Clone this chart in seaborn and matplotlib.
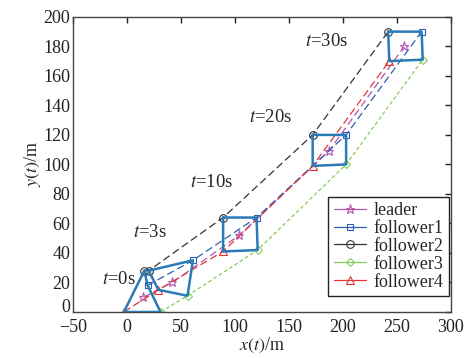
import matplotlib
matplotlib.use('Agg')
import matplotlib.pyplot as plt
import seaborn as sns

# positions at t = 0, 3, 10, 20, 30 s
times = [0, 3, 10, 20, 30]
leader_x = [15, 42, 104, 187, 257]
leader_y = [10, 20, 52, 109, 180]
f1_x = [19, 61, 120, 203, 273]
f1_y = [18, 35, 64, 120, 190]
f2_x = [16, 20, 89, 172, 242]
f2_y = [28, 28, 64, 120, 190]
f3_x = [31, 56, 121, 203, 274]
f3_y = [0, 11, 42, 100, 171]
f4_x = [-3, 29, 89, 172, 243]
f4_y = [0, 15, 41, 99, 170]

names = ['leader', 'follower1', 'follower2', 'follower3', 'follower4']
time_labels = ['0s', '3s', '10s', '20s', '30s']
label_x = [-8, 21, 78, 133, 185]
label_y = [22, 54, 88, 132, 183]

sns.set_theme(style='white')
plt.rcParams['font.family'] = ['Liberation Serif', 'DejaVu Serif']
plt.rcParams['mathtext.fontset'] = 'stix'

fig, ax = plt.subplots(figsize=(4.72, 3.59), dpi=100)
fig.subplots_adjust(left=0.155, right=0.955, top=0.953, bottom=0.131)

agents = [
    (leader_x, leader_y, '#b256b2', '*', 6.5, (0, (6, 3))),
    (f1_x, f1_y, '#2b5fb4', 's', 5, (0, (6, 3))),
    (f2_x, f2_y, '#333333', 'o', 5.5, (0, (6, 3))),
    (f3_x, f3_y, '#86cc5a', 'D', 4.5, (0, (3, 2))),
    (f4_x, f4_y, '#e23636', '^', 5.5, (0, (6, 3))),
]

handles = []
for (xs, ys, c, m, ms, ls), name in zip(agents, names):
    sns.lineplot(x=xs, y=ys, sort=False, estimator=None, color=c, ax=ax,
                 marker=m, markersize=ms, markerfacecolor='none',
                 markeredgecolor=c, markeredgewidth=0.8, linewidth=0.9,
                 linestyle=ls, legend=False)
    handles.append(ax.lines[-1])

# formation shape at each instant: follower2 -> follower1 -> follower3 -> follower4
for i in range(len(times)):
    px = [f2_x[i], f1_x[i], f3_x[i], f4_x[i], f2_x[i]]
    py = [f2_y[i], f1_y[i], f3_y[i], f4_y[i], f2_y[i]]
    ax.plot(px, py, color='#2a7ab8', linewidth=1.8, zorder=3)

for tx, ty, tl in zip(label_x, label_y, time_labels):
    ax.text(tx, ty, r'$t$=' + tl, fontsize=13.5, ha='center', va='center')

ax.set_xlim(-50, 300)
ax.set_ylim(0, 200)
ax.set_xticks(range(-50, 301, 50))
ax.set_yticks(range(0, 201, 20))
ax.set_xticklabels(['\u221250'] + [str(v) for v in range(0, 301, 50)])
ax.tick_params(direction='in', top=True, right=True, length=4, width=1,
               labelsize=13, colors='#222222')
ax.tick_params(axis='x', pad=5)
ax.tick_params(axis='y', pad=2)
ax.get_yticklabels()[0].set_verticalalignment('baseline')
for s in ax.spines.values():
    s.set_color('#444444')
    s.set_linewidth(1.0)

ax.set_xlabel(r'$x(t)$/m', fontsize=13, labelpad=0)
ax.set_ylabel(r'$y(t)$/m', fontsize=13, labelpad=0)

leg = ax.legend(handles, names, loc='lower right', bbox_to_anchor=(0.995, 0.054),
                borderaxespad=0, fancybox=False, fontsize=13, labelspacing=0.05,
                handlelength=1.8, handletextpad=0.4, borderpad=0.3, framealpha=1)
leg.get_frame().set_edgecolor('#222222')
leg.get_frame().set_linewidth(1.0)
for h in leg.legend_handles:
    h.set_linestyle('-')

plt.savefig('out.png', dpi=100)
